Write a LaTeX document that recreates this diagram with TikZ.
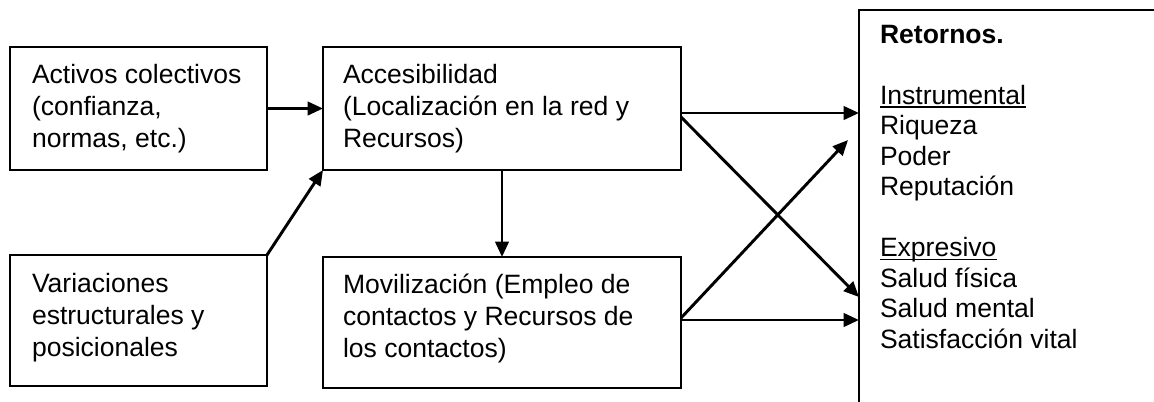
\documentclass[tikz,border=0pt]{standalone}
\usepackage{fontspec}
\setmainfont{Liberation Sans}
\usetikzlibrary{arrows.meta,calc}
\newcommand\myul[1]{\setbox0\hbox{#1}\rlap{\rule[-2.8pt]{\wd0}{1.45pt}}#1}
\tikzset{
  box/.style={draw, line width=1.8pt, inner sep=0pt, outer sep=0pt, anchor=north west},
  txt/.style={anchor=base west, inner sep=0pt, outer sep=0pt, font=\fontsize{19.9}{24}\selectfont},
  rtxt/.style={anchor=base west, inner sep=0pt, outer sep=0pt, font=\fontsize{19.9}{22.9}\selectfont},
  conn/.style={line width=2.2pt, -{Triangle[length=11.5pt,width=10pt]}},
}
\begin{document}
\begin{tikzpicture}[x=0.75pt,y=-0.75pt]
\useasboundingbox (0,0) rectangle (1154,401);
\clip (0,0) rectangle (1154,401);
% boxes
\node[box, minimum width=192.75pt, minimum height=92.25pt] (A) at (10,47) {};
\node[box, minimum width=268.5pt, minimum height=92.25pt] (B) at (323,47) {};
\node[box, minimum width=192.75pt, minimum height=98.25pt] (C) at (10,255) {};
\node[box, minimum width=268.5pt, minimum height=98.25pt] (D) at (323,257) {};
\node[box, minimum width=300pt, minimum height=340pt] (R) at (859,10) {};
% texts
\node[txt] (At) at (32,83) {\begin{tabular}[t]{@{}l@{}}Activos colectivos\\(confianza,\\normas, etc.)\end{tabular}};
\node[txt] (Bt) at (343,83) {\begin{tabular}[t]{@{}l@{}}Accesibilidad\\(Localización en la red y\\Recursos)\end{tabular}};
\node[txt] (Ct) at (32,292) {\begin{tabular}[t]{@{}l@{}}Variaciones\\estructurales y\\posicionales\end{tabular}};
\node[txt] (Dt) at (343,293) {\begin{tabular}[t]{@{}l@{}}Movilización (Empleo de\\contactos y Recursos de\\los contactos)\end{tabular}};
\node[rtxt] (Rt) at (880,43) {\begin{tabular}[t]{@{}l@{}}\textbf{Retornos.}\\ \\\myul{Instrumental}\\Riqueza\\Poder\\Reputación\\ \\\myul{Expresivo}\\Salud física\\Salud mental\\Satisfacción vital\end{tabular}};
% connectors
\coordinate (tipD) at (848,140);
\draw[conn] (A.east) -- (B.west);
\draw[conn] (C.north east) -- (B.south west);
\draw[conn] (B.south) -- (D.north);
\draw[conn] (B.east |- 0,113) -- (R.west |- 0,113);
\draw[conn] (B.east |- 0,117) -- (R.west |- 0,297);
\draw[conn] (D.east |- 0,318) -- (tipD);
\draw[conn] (D.east |- 0,320) -- (R.west |- 0,320);
\end{tikzpicture}
\end{document}
